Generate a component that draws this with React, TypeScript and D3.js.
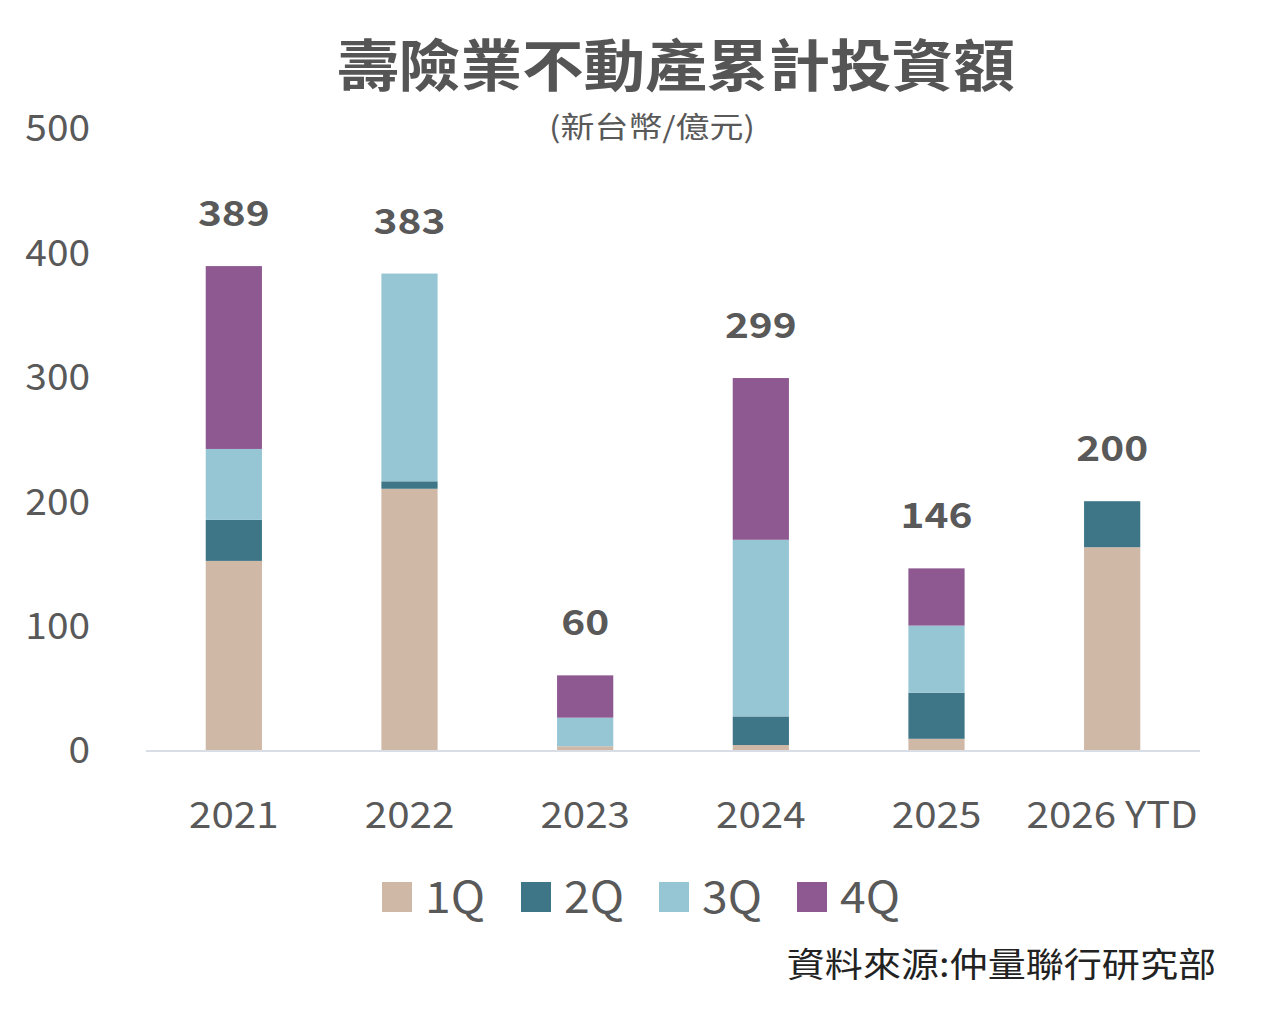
import React, { useEffect, useRef, ReactElement } from 'react'
import * as d3 from 'd3'

const categories = ['2021', '2022', '2023', '2024', '2025', '2026 YTD']
const seriesNames = ['1Q', '2Q', '3Q', '4Q']
const q1 = [152, 210, 3, 4, 9, 163]
const q2 = [33, 6, 0, 23, 37, 37]
const q3 = [57, 167, 23, 142, 54, 0]
const q4 = [147, 0, 34, 130, 46, 0]
const totals = [389, 383, 60, 299, 146, 200]
const yTicks = [0, 100, 200, 300, 400, 500]
const colors = ['#d0b8a6', '#3e7688', '#96c5d4', '#8e5990']

const FONT = '"Noto Sans CJK TC", "Noto Sans", sans-serif'

const App = (): ReactElement => {
  const ref = useRef<SVGSVGElement>(null)

  useEffect(() => {
    const svg = d3.select(ref.current)
    svg.selectAll('*').remove()

    const width = 1280
    const margin = { left: 146, right: 80 }
    const x = d3.scaleBand<string>()
      .domain(categories)
      .range([margin.left, width - margin.right])
      .paddingInner(0.68)
      .paddingOuter(0.34)
    const y = d3.scaleLinear().domain([0, 500]).range([750, 128])
    const cx = (c: string) => (x(c) as number) + x.bandwidth() / 2

    // text in the reference is a bit wider than the font, so stretch it
    const put = (px: number, py: number, sx: number) => `translate(${px},${py}) scale(${sx},1)`

    // title
    svg.append('text')
      .attr('transform', put(676, 86, 1.1))
      .attr('text-anchor', 'middle')
      .style('font-family', FONT).style('font-weight', 700)
      .style('font-size', '56px').style('fill', '#555555')
      .text('壽險業不動產累計投資額')
    svg.append('text')
      .attr('transform', put(652, 138, 1.17))
      .attr('text-anchor', 'middle')
      .style('font-family', FONT)
      .style('font-size', '29px').style('fill', '#595959')
      .text('(新台幣/億元)')

    // y tick labels
    svg.append('g').selectAll('text')
      .data(yTicks)
      .join('text')
      .attr('transform', d => put(90, y(d), 1.05))
      .attr('dy', '0.36em')
      .attr('text-anchor', 'end')
      .style('font-family', FONT)
      .style('font-size', '37px').style('fill', '#595959')
      .text(d => d)

    const data = categories.map((c, i) => ({ cat: c, '1Q': q1[i], '2Q': q2[i], '3Q': q3[i], '4Q': q4[i] }))
    const stack = d3.stack<any>().keys(seriesNames)(data)

    svg.append('g').selectAll('g')
      .data(stack)
      .join('g')
      .style('fill', (d, i) => colors[i])
      .selectAll('rect')
      .data(d => d)
      .join('rect')
      .attr('x', d => x(d.data.cat) as number)
      .attr('width', x.bandwidth())
      .attr('y', d => y(d[1]))
      .attr('height', d => y(d[0]) - y(d[1]))

    // baseline
    svg.append('line')
      .attr('x1', margin.left).attr('x2', width - margin.right)
      .attr('y1', y(0) + 1).attr('y2', y(0) + 1)
      .style('stroke', '#d9dee6').style('stroke-width', 2)

    // totals
    svg.append('g').selectAll('text')
      .data(categories)
      .join('text')
      .attr('transform', (d, i) => put(cx(d), y(totals[i]) - 40, 1.16))
      .attr('text-anchor', 'middle')
      .style('font-family', FONT).style('font-weight', 700)
      .style('font-size', '35px').style('fill', '#595959')
      .text((d, i) => totals[i])

    // category labels
    svg.append('g').selectAll('text')
      .data(categories)
      .join('text')
      .attr('transform', d => put(cx(d), 828, 1.09))
      .attr('text-anchor', 'middle')
      .style('font-family', FONT)
      .style('font-size', '37px').style('fill', '#595959')
      .text(d => d)

    // legend
    const legendX = [382, 521, 659, 797]
    const lg = svg.append('g').selectAll('g')
      .data(seriesNames)
      .join('g')
      .attr('transform', (d, i) => `translate(${legendX[i]},882)`)
    lg.append('rect')
      .attr('width', 30).attr('height', 30)
      .style('fill', (d, i) => colors[i])
    lg.append('text')
      .attr('transform', put(43, 15, 1.05))
      .attr('dy', '0.36em')
      .style('font-family', FONT)
      .style('font-size', '44px').style('fill', '#595959')
      .text(d => d)

    // source
    svg.append('text')
      .attr('transform', put(1216, 977, 1.12))
      .attr('text-anchor', 'end')
      .style('font-family', FONT)
      .style('font-size', '34px').style('fill', '#222222')
      .text('資料來源:仲量聯行研究部')
  }, [])

  return (
    <svg ref={ref} width={1280} height={1013}
      style={{ position: 'absolute', left: 0, top: 0, background: '#ffffff' }} />
  )
}

export default App
